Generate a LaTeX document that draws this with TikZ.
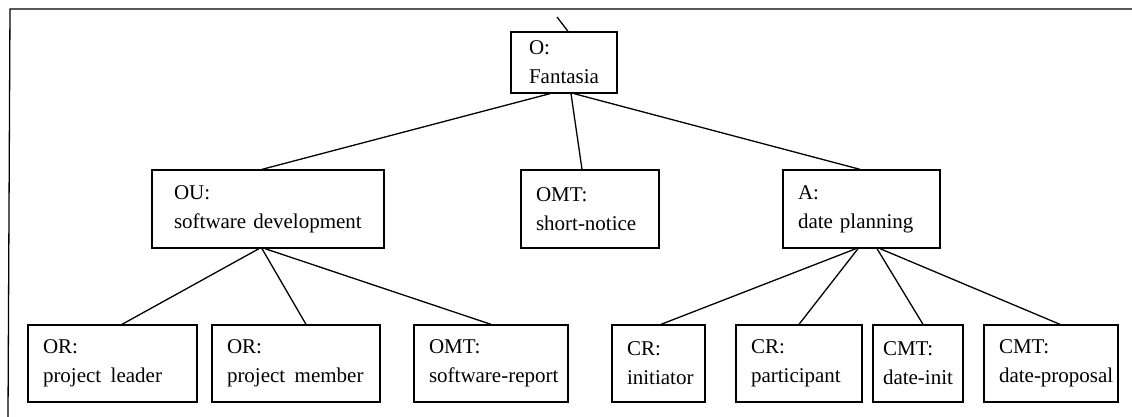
\documentclass[tikz,border=0pt]{standalone}
\usepackage{fontspec}
\setmainfont{Liberation Serif}
% two-line label: kind on top, name below, neither line may break
\newcommand{\twolines}[2]{\mbox{#1}\\\mbox{#2}}
\begin{document}
\begin{tikzpicture}[x=1pt,y=-1pt,
  every node/.style={font=\fontsize{21}{29}\selectfont},
  unit/.style={draw, line width=1.3pt, inner xsep=15pt, inner ysep=0pt, align=left, anchor=center},
  link/.style={line width=1.3pt}]
\useasboundingbox (0,0) rectangle (1132,417);
% frame
\draw[line width=1.3pt] (1132,9) -- (10,9) -- (8,417);

% root
\node[unit, inner xsep=18pt, text width=70pt, minimum height=61pt] (root) at (564,62.5) {\twolines{O:}{Fantasia}};
\coordinate (up) at (557,17);

% second level
\node[unit, inner xsep=22pt, text width=188pt, minimum height=78pt] (ou) at (268,209) {\twolines{OU:}{software development}};
\node[unit, text width=108pt, minimum height=78pt] (omt) at (590,209) {\twolines{OMT:}{short-notice}};
\node[unit, text width=127pt, minimum height=78pt] (act) at (861.5,209) {\twolines{A:}{date planning}};

% third level
\node[unit, text width=139pt, minimum height=77pt] (lead) at (112.5,363.5) {\twolines{OR:}{project\hspace{0.45em}leader}};
\node[unit, text width=138pt, minimum height=77pt] (memb) at (296,363.5) {\twolines{OR:}{project\hspace{0.45em}member}};
\node[unit, text width=124pt, minimum height=77pt] (rep) at (491,363.5) {\twolines{OMT:}{software-report}};
\node[unit, text width=63pt, minimum height=77pt] (init) at (658.5,363.5) {\twolines{CR:}{initiator}};
\node[unit, text width=96pt, minimum height=77pt] (part) at (799,363.5) {\twolines{CR:}{participant}};
\node[unit, inner xsep=10pt, text width=70pt, minimum height=77pt] (dinit) at (918,363.5) {\twolines{CMT:}{date-init}};
\node[unit, text width=104pt, minimum height=77pt] (dprop) at (1051,363.5) {\twolines{CMT:}{date-proposal}};

% connectors
\draw[link] (up) -- ([xshift=4pt]root.north);
\draw[link] ([xshift=-14pt]root.south) -- ([xshift=-6pt]ou.north);
\draw[link] ([xshift=7pt]root.south) -- ([xshift=-8pt]omt.north);
\draw[link] ([xshift=10pt]root.south) -- ([xshift=-1.5pt]act.north);

\draw[link] ([xshift=-9pt]ou.south) -- ([xshift=9.5pt]lead.north);
\draw[link] ([xshift=-6pt]ou.south) -- ([xshift=10pt]memb.north);
\draw[link] ([xshift=-3pt]ou.south) -- (rep.north);

\draw[link] ([xshift=-5.5pt]act.south) -- ([xshift=2.5pt]init.north);
\draw[link] ([xshift=-3.5pt]act.south) -- (part.north);
\draw[link] ([xshift=15.5pt]act.south) -- ([xshift=5pt]dinit.north);
\draw[link] ([xshift=18.5pt]act.south) -- ([xshift=9pt]dprop.north);
\end{tikzpicture}
\end{document}
